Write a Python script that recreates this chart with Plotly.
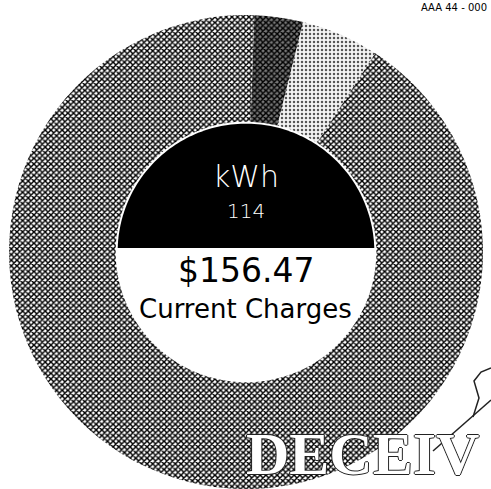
import numpy as np
import plotly.graph_objects as go

# ---- data ----
categories = ["Service Charge", "Taxes & Fees", "Energy Charges"]
amounts = [5.2, 8.3, 142.97]
slice_colors = ["#3c3c3c", "#d8d8d8", "#7c7c7c"]
usage_label = "kWh"
usage_value = "114"
total_label = "$156.47"
total_caption = "Current Charges"
header_text = "AAA 44 - 000"
stamp_text = "DECEIV"

W, H = 491, 489
CX, CY = 246, 252          # donut centre (px)
R_OUT = 237                 # outer radius (px)
HOLE = 0.55
R_IN = R_OUT * HOLE
SPLIT_Y = 248               # black / white split inside the hole

def px(x):
    return x / W

def py(y):
    return 1 - y / H

fig = go.Figure()
fig.add_trace(go.Pie(
    labels=categories,
    values=amounts,
    hole=HOLE,
    sort=False,
    direction="clockwise",
    rotation=2,
    marker=dict(colors=slice_colors, line=dict(width=0),
                pattern=dict(shape=["x", ".", "x"], fgcolor=["#000000", "#555555", "#000000"],
                             bgcolor=["#777777", "#f4f4f4", "#ffffff"],
                             size=[4, 4, 4], solidity=[0.6, 0.3, 0.6])),
    textinfo="none",
    hoverinfo="label+value",
    showlegend=False,
    domain=dict(x=[px(CX - R_OUT), px(CX + R_OUT)], y=[py(CY + R_OUT), py(CY - R_OUT)]),
))

# black upper segment of the hole
r_black = R_IN - 2
dy = CY - SPLIT_Y
a0 = np.arcsin(dy / r_black)
angs = np.linspace(np.pi - a0, a0, 120)
pts = [(CX + r_black * np.cos(a), CY - r_black * np.sin(a)) for a in angs]
path = "M " + " L ".join(f"{px(x):.5f},{py(y):.5f}" for x, y in pts) + " Z"
fig.add_shape(type="path", path=path, xref="paper", yref="paper",
              fillcolor="black", line=dict(width=0), layer="above")

font_family = "'DejaVu Sans', sans-serif"
fig.add_annotation(x=px(CX), y=py(176), xref="paper", yref="paper", text=usage_label,
                   showarrow=False, font=dict(family=font_family, size=30, color="white", weight=200))
fig.add_annotation(x=px(CX), y=py(211), xref="paper", yref="paper", text=usage_value,
                   showarrow=False, font=dict(family=font_family, size=20, color="white", weight=200))
fig.add_annotation(x=px(CX), y=py(270), xref="paper", yref="paper", text=total_label,
                   showarrow=False, font=dict(family=font_family, size=33, color="black"))
fig.add_annotation(x=px(CX), y=py(309), xref="paper", yref="paper", text=total_caption,
                   showarrow=False, font=dict(family=font_family, size=26, color="black"))

# scanned page artefacts: header text, stamp, scribble
fig.add_annotation(x=px(489), y=py(0), xref="paper", yref="paper", text=header_text,
                   xanchor="right", yanchor="top", showarrow=False,
                   font=dict(family="DejaVu Sans", size=10, color="black"))
fig.add_annotation(x=px(244), y=py(489), xref="paper", yref="paper", text=stamp_text,
                   xanchor="left", yanchor="bottom", showarrow=False,
                   font=dict(family="Liberation Serif", size=60, color="white", weight="bold",
                             shadow="1px 0 0 #222, -1px 0 0 #222, 0 1px 0 #222, 0 -1px 0 #222"))
scribble1 = [(433, 451), (491, 400)]
scribble2 = [(473, 417), (479, 398), (474, 381), (481, 372), (491, 368)]
for s in (scribble1, scribble2):
    p = "M " + " L ".join(f"{px(x):.5f},{py(y):.5f}" for x, y in s)
    fig.add_shape(type="path", path=p, xref="paper", yref="paper",
                  line=dict(color="#222", width=1.5), layer="above")

fig.update_layout(width=W, height=H, margin=dict(l=0, r=0, t=0, b=0),
                  paper_bgcolor="white", plot_bgcolor="white")
fig.write_html("out.html")
